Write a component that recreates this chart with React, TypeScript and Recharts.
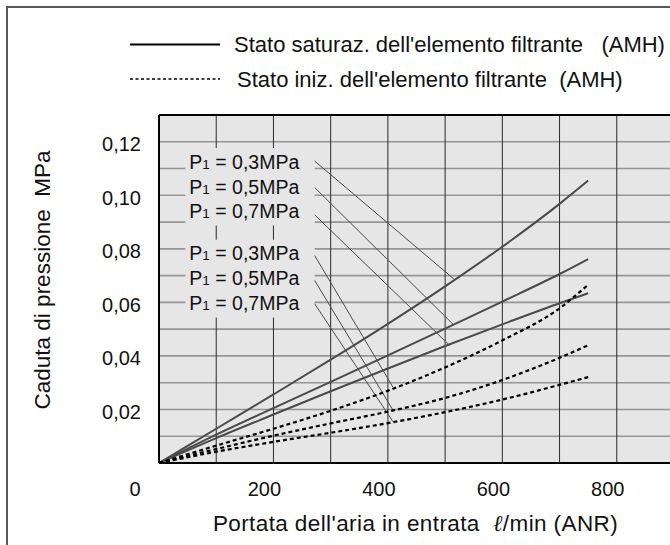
import React from 'react';
import {
  LineChart,
  Line,
  XAxis,
  YAxis,
  CartesianGrid,
  ReferenceArea,
  ReferenceLine,
} from 'recharts';

// portata (l/min ANR) e caduta di pressione (MPa)
const flow = [0, 100, 200, 300, 400, 500, 600, 700, 750];
const satP03 = [0, 0.0128, 0.0256, 0.0386, 0.052, 0.066, 0.0808, 0.0968, 0.1055];
const satP05 = [0, 0.0106, 0.0205, 0.0303, 0.0402, 0.0502, 0.0603, 0.0706, 0.0762];
const satP07 = [0, 0.0093, 0.0181, 0.0268, 0.0353, 0.0437, 0.0518, 0.0597, 0.0634];
const iniP03 = [0, 0.0065, 0.0128, 0.0195, 0.027, 0.0357, 0.0458, 0.0578, 0.0666];
const iniP05 = [0, 0.0052, 0.0102, 0.0148, 0.0192, 0.0243, 0.031, 0.0393, 0.044];
const iniP07 = [0, 0.0042, 0.0079, 0.0113, 0.0149, 0.019, 0.0237, 0.0292, 0.0321];

const xTicks = [0, 100, 200, 300, 400, 500, 600, 700, 800, 900];
const yTicks = [0, 0.01, 0.02, 0.03, 0.04, 0.05, 0.06, 0.07, 0.08, 0.09, 0.1, 0.11, 0.12, 0.13];

// richiami: testo, posizione del testo e punto sulla curva
const calloutPressure = ['0,3', '0,5', '0,7', '0,3', '0,5', '0,7'];
const calloutY = [0.1125, 0.1032, 0.0939, 0.0782, 0.0689, 0.0596];
const calloutBoxX = [46, 272];
const leaderStartY = [0.1128, 0.1029, 0.0927, 0.0775, 0.0682, 0.0595];
const leaderEnd = [
  [515, 0.0688],
  [514, 0.0518],
  [508, 0.0439],
  [409, 0.0283],
  [409, 0.0197],
  [409, 0.0154],
];

const legendLabels = [
  "Stato saturaz. dell'elemento filtrante   (AMH)",
  "Stato iniz. dell'elemento filtrante  (AMH)",
];

const data = flow.map((f, i) => ({
  flow: f,
  s03: satP03[i],
  s05: satP05[i],
  s07: satP07[i],
  i03: iniP03[i],
  i05: iniP05[i],
  i07: iniP07[i],
}));

const FONT = '"Liberation Sans", Arial, sans-serif';
const TXT = '#111';

const XTick = (props: any) => {
  const { x, y, payload } = props;
  const v = payload.value;
  if (v % 200 !== 0 || v >= 900) return null;
  const dx = v === 0 ? -24 : -9;
  return (
    <text x={x + dx} y={y + 26} dy="0.35em" textAnchor="middle" fontFamily={FONT} fontSize={20} fill={TXT}>
      {v}
    </text>
  );
};

const YTick = (props: any) => {
  const { x, y, payload } = props;
  const v = payload.value;
  const n = Math.round(v * 100);
  if (n === 0 || n % 2 !== 0 || n > 12) return null;
  return (
    <text x={x - 18} y={y + 2.5} dy="0.35em" textAnchor="end" fontFamily={FONT} fontSize={20} fill={TXT}>
      {v.toFixed(2).replace('.', ',')}
    </text>
  );
};

const calloutLabel = (pressure: string) => (props: any) => {
  const { viewBox } = props;
  return (
    <text
      x={viewBox.x + 4}
      y={viewBox.y + viewBox.height / 2}
      dy="0.35em"
      fontFamily={FONT}
      fontSize={19.5}
      fill={TXT}
      style={{ whiteSpace: 'pre' }}
    >
      P<tspan fontSize={13.5}>1</tspan>
      {` = ${pressure}MPa`}
    </text>
  );
};

const Legenda = () => (
  <svg width={670} height={100} style={{ position: 'absolute', left: 0, top: 0 }}>
    <line x1={130} x2={220} y1={44.5} y2={44.5} stroke="#000" strokeWidth={2} />
    <text x={234} y={44.5} dy="0.35em" fontFamily={FONT} fontSize={22} fill={TXT} style={{ whiteSpace: 'pre' }}>
      {legendLabels[0]}
    </text>
    <line x1={130} x2={220} y1={79} y2={79} stroke="#000" strokeWidth={1.5} strokeDasharray="3 2.5" />
    <text x={237} y={79} dy="0.35em" fontFamily={FONT} fontSize={22} fill={TXT} style={{ whiteSpace: 'pre' }}>
      {legendLabels[1]}
    </text>
  </svg>
);

const App = () => {
  return (
    <div
      style={{
        position: 'fixed',
        left: 0,
        top: 0,
        width: 670,
        height: 545,
        overflow: 'hidden',
        background: '#fff',
      }}
    >
      <div
        style={{
          position: 'absolute',
          left: 6,
          top: 6,
          width: 800,
          height: 800,
          borderTop: '2px solid #5a5a5a',
          borderLeft: '2px solid #5a5a5a',
        }}
      />
      <Legenda />
      <div style={{ position: 'absolute', left: 0, top: 0 }}>
        <LineChart width={674} height={545} data={data} margin={{ top: 115, right: 0, bottom: 0, left: 0 }}>
          <CartesianGrid vertical={false} fill="#e6e6e6" stroke="#959595" strokeWidth={1.6} />
          <CartesianGrid horizontal={false} stroke="#2a2a2a" strokeWidth={1} />
          <XAxis
            dataKey="flow"
            type="number"
            domain={[0, 900]}
            ticks={xTicks}
            interval={0}
            height={82}
            tickSize={0}
            tickMargin={0}
            tickLine={false}
            axisLine={{ stroke: '#000', strokeWidth: 2 }}
            tick={XTick}
            label={{
              content: (p: any) => (
                <text
                  x={p.viewBox.x + p.viewBox.width / 2 - 1}
                  y={523}
                  dy="0.35em"
                  textAnchor="middle"
                  fontFamily={FONT}
                  fontSize={22.5}
                  letterSpacing={0.4}
                  fill={TXT}
                  style={{ whiteSpace: 'pre' }}
                >
                  {"Portata dell'aria in entrata  "}
                  <tspan fontStyle="italic" fontFamily="DejaVu Serif, serif">ℓ</tspan>
                  {'/min (ANR)'}
                </text>
              ),
            }}
          />
          <YAxis
            type="number"
            domain={[0, 0.13]}
            ticks={yTicks}
            interval={0}
            width={159}
            tickSize={0}
            tickMargin={0}
            tickLine={false}
            axisLine={{ stroke: '#000', strokeWidth: 2 }}
            tick={YTick}
            label={{
              content: (p: any) => {
                const cx = 42;
                const cy = p.viewBox.y + p.viewBox.height / 2 - 9;
                return (
                  <text
                    x={cx}
                    y={cy}
                    dy="0.35em"
                    textAnchor="middle"
                    transform={`rotate(-90 ${cx} ${cy})`}
                    fontFamily={FONT}
                    fontSize={22.5}
                    fill={TXT}
                    style={{ whiteSpace: 'pre' }}
                  >
                    Caduta di pressione  MPa
                  </text>
                );
              },
            }}
          />
          <ReferenceLine y={0.13} stroke="#000" strokeWidth={2} />

          {calloutY.map((y, i) => (
            <ReferenceArea
              key={`box-${i}`}
              x1={calloutBoxX[0]}
              x2={calloutBoxX[1]}
              y1={y - 0.0052}
              y2={y + 0.0052}
              fill="#e6e6e6"
              fillOpacity={1}
              stroke="none"
              label={calloutLabel(calloutPressure[i])}
            />
          ))}
          {leaderEnd.map((end, i) => (
            <ReferenceLine
              key={`lead-${i}`}
              segment={[
                { x: calloutBoxX[1], y: leaderStartY[i] },
                { x: end[0], y: end[1] },
              ]}
              stroke="#4a4a4a"
              strokeWidth={1}
            />
          ))}

          <Line type="monotone" dataKey="s03" stroke="#4a4a4a" strokeWidth={2} dot={false} isAnimationActive={false} />
          <Line type="monotone" dataKey="s05" stroke="#4a4a4a" strokeWidth={2} dot={false} isAnimationActive={false} />
          <Line type="monotone" dataKey="s07" stroke="#4a4a4a" strokeWidth={2} dot={false} isAnimationActive={false} />
          <Line type="monotone" dataKey="i03" stroke="#000" strokeWidth={2.2} strokeDasharray="4 3" dot={false} isAnimationActive={false} />
          <Line type="monotone" dataKey="i05" stroke="#000" strokeWidth={2.2} strokeDasharray="4 3" dot={false} isAnimationActive={false} />
          <Line type="monotone" dataKey="i07" stroke="#000" strokeWidth={2.2} strokeDasharray="4 3" dot={false} isAnimationActive={false} />
        </LineChart>
      </div>
    </div>
  );
};

export default App;
